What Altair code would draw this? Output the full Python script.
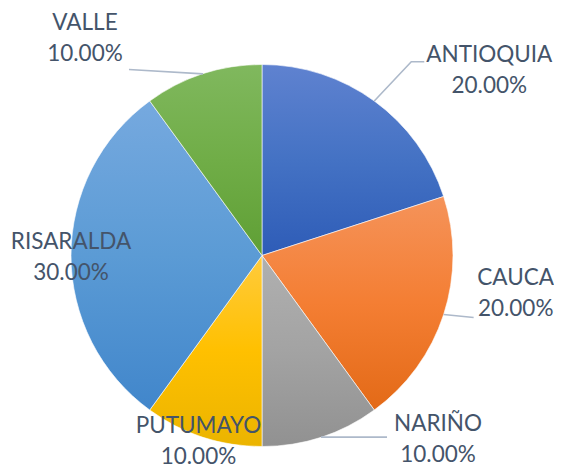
import math
import altair as alt
import pandas as pd

# ---- data ----
categories = ["ANTIOQUIA", "CAUCA", "NARIÑO", "PUTUMAYO", "RISARALDA", "VALLE"]
values = [20, 20, 10, 10, 30, 10]

# ---- styles / layout ----
gradients = {
    "ANTIOQUIA": ["#5F82D0", "#4472C4", "#2E5CB7"],
    "CAUCA": ["#F5935A", "#F47E33", "#E36A17"],
    "NARIÑO": ["#B0B0B0", "#A3A3A3", "#919191"],
    "PUTUMAYO": ["#FFCB3D", "#FFC000", "#EBB400"],
    "RISARALDA": ["#76A9DF", "#5B9BD5", "#4186CB"],
    "VALLE": ["#80B85E", "#70AD47", "#5F9F35"],
}
CX, CY, R = 254, 247.5, 191
TEXT_COLOR = "#44546A"
LEADER_COLOR = "#ADB9CA"
FONT = "Lato"
label_offset = {
    "ANTIOQUIA": (115, -39), "CAUCA": (72, -29.5), "NARIÑO": (117, -6),
    "PUTUMAYO": (-4.5, -4.5), "RISARALDA": (0, -6.5), "VALLE": (-118, -43.5),
}
leader_path = {
    "ANTIOQUIA": [(37, -39.3), (50, -39.3)], "CAUCA": [(30, 3)],
    "NARIÑO": [(66, 0)], "VALLE": [(-74, -4.3)],
}

total = sum(values)
df = pd.DataFrame({"cat": categories, "value": values, "order": range(len(values))})

# ---- slices (one layer per slice for its own gradient) ----
arc_layers = []
for c in categories:
    s = gradients[c]
    grad = alt.Gradient(
        gradient="linear", x1=0, x2=0, y1=0, y2=1,
        stops=[alt.GradientStop(color=s[0], offset=0),
               alt.GradientStop(color=s[1], offset=0.5),
               alt.GradientStop(color=s[2], offset=1)],
    )
    arc_layers.append(
        alt.Chart().transform_filter(alt.datum.cat == c)
        .mark_arc(outerRadius=R, fill=grad, stroke="white", strokeWidth=0.6)
        .encode(
            theta=alt.Theta("start:Q", scale=alt.Scale(domain=[0, total])),
            theta2="end:Q",
            x=alt.value(CX), y=alt.value(CY),
        )
    )
arcs = alt.layer(*arc_layers, data=df).transform_window(
    cum="sum(value)", sort=[alt.SortField("order")], frame=[None, 0]
).transform_calculate(start="datum.cum - datum.value", end="datum.cum")

# ---- labels and leader lines, anchored on each slice's mid-angle edge ----
lab_rows, lead_rows = [], []
cum = 0
for c, v in zip(categories, values):
    mid = (cum + v / 2) / total * 2 * math.pi
    cum += v
    ex, ey = CX + R * math.sin(mid), CY - R * math.cos(mid)
    ox, oy = label_offset[c]
    lab_rows.append({"cat": c, "px": ex + ox, "py": ey + oy,
                     "label": f"{c}\n{v / total * 100:.2f}%"})
    if c in leader_path:
        pts = [(0, 0)] + leader_path[c]
        for i, (dx, dy) in enumerate(pts):
            lead_rows.append({"cat": c, "i": i, "px": ex + dx, "py": ey + dy})

labels = alt.Chart(pd.DataFrame(lab_rows)).mark_text(
    font=FONT, fontSize=22.5, color=TEXT_COLOR, align="center",
    baseline="alphabetic", lineBreak="\n", lineHeight=31,
).encode(
    x=alt.X("px:Q", scale=None, axis=None),
    y=alt.Y("py:Q", scale=None, axis=None),
    text="label:N",
)

leaders = alt.Chart(pd.DataFrame(lead_rows)).mark_line(
    color=LEADER_COLOR, strokeWidth=1.6
).encode(
    x=alt.X("px:Q", scale=None, axis=None),
    y=alt.Y("py:Q", scale=None, axis=None),
    detail="cat:N", order="i:Q",
)

chart = alt.layer(arcs, leaders, labels).properties(
    width=546, height=460, padding=0, autosize=alt.AutoSizeParams(type="none"),
    background="white",
).configure_view(stroke=None)

chart.save("out.html", embed_options={"renderer": "svg", "actions": False})
